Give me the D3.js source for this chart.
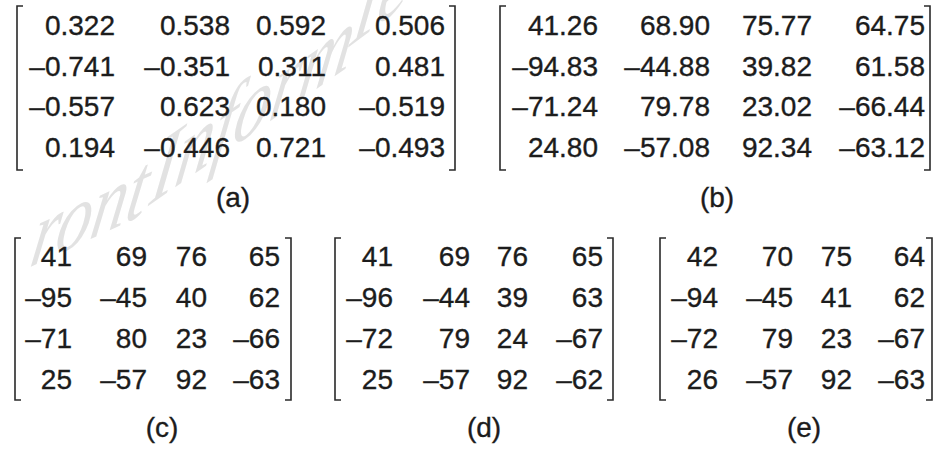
<!DOCTYPE html>
<html><head><meta charset="utf-8">
<script src="https://cdn.jsdelivr.net/npm/d3@7"></script>
<style>html,body{margin:0;padding:0;background:#fff;}svg{display:block;}</style>
</head><body>
<svg id="chart" width="938" height="452"></svg>
<script>
// ---- data ----
const matrixA = [["0.322","0.538","0.592","0.506"],["–0.741","–0.351","0.311","0.481"],["–0.557","0.623","0.180","–0.519"],["0.194","–0.446","0.721","–0.493"]];
const matrixB = [["41.26","68.90","75.77","64.75"],["–94.83","–44.88","39.82","61.58"],["–71.24","79.78","23.02","–66.44"],["24.80","–57.08","92.34","–63.12"]];
const matrixC = [["41","69","76","65"],["–95","–45","40","62"],["–71","80","23","–66"],["25","–57","92","–63"]];
const matrixD = [["41","69","76","65"],["–96","–44","39","63"],["–72","79","24","–67"],["25","–57","92","–62"]];
const matrixE = [["42","70","75","64"],["–94","–45","41","62"],["–72","79","23","–67"],["26","–57","92","–63"]];
const panelLabels = ["(a)","(b)","(c)","(d)","(e)"];
const watermarkWords = ["ront", "Inform", "Tec"];

// ---- layout ----
const panels = [
  {m: matrixA, left: 17, right: 455, top: 6, bottom: 170, cols: [115,230,326,445], rows: [35,157], lx: 233, ly: 207},
  {m: matrixB, left: 500, right: 930, top: 6, bottom: 170, cols: [598,710,812,925], rows: [35,157], lx: 717, ly: 207},
  {m: matrixC, left: 15, right: 291, top: 238, bottom: 400, cols: [72,147,207,280], rows: [266,389], lx: 162, ly: 437},
  {m: matrixD, left: 335, right: 613, top: 238, bottom: 400, cols: [393,470,528,603], rows: [266,389], lx: 484, ly: 437},
  {m: matrixE, left: 660, right: 932, top: 238, bottom: 400, cols: [718,793,852,925], rows: [266,389], lx: 804, ly: 437}
];
const watermarkLayout = [
  {size: 86, a: 0.82, b: -0.38, e: 28, f: 268},
  {size: 90, a: 0.82, b: -0.57, e: 148, f: 206},
  {size: 90, a: 0.78, b: -0.58, e: 342, f: 52}
];

const svg = d3.select("#chart");

// watermark
const wm = svg.append("g").attr("fill", "#e2e2e2")
  .attr("font-family", "'Liberation Serif','DejaVu Serif',serif")
  .attr("font-style", "italic");
wm.selectAll("text").data(watermarkWords).join("text")
  .attr("font-size", (d, i) => watermarkLayout[i].size)
  .attr("transform", (d, i) => {
    const L = watermarkLayout[i];
    return `matrix(${L.a},${L.b},-0.2,1.08,${L.e},${L.f})`;
  })
  .text(d => d);

const font = "'Liberation Sans', Arial, sans-serif";
const serif = 6;
const ink = "#1c1c1c";

panels.forEach((p, i) => {
  const g = svg.append("g");
  const y = d3.scaleLinear().domain([0, p.m.length - 1]).range(p.rows);
  const x = d3.scaleOrdinal().domain(d3.range(p.cols.length)).range(p.cols);

  const line = d3.line();
  g.append("path")
    .attr("d", line([[p.left + serif, p.top], [p.left, p.top], [p.left, p.bottom], [p.left + serif, p.bottom]]))
    .attr("fill", "none").attr("stroke", "#2a2a2a").attr("stroke-width", 1.6);
  g.append("path")
    .attr("d", line([[p.right - serif, p.top], [p.right, p.top], [p.right, p.bottom], [p.right - serif, p.bottom]]))
    .attr("fill", "none").attr("stroke", "#2a2a2a").attr("stroke-width", 1.6);

  const cells = p.m.flatMap((row, r) => row.map((v, c) => ({v, r, c})));
  g.selectAll("text.cell").data(cells).join("text")
    .attr("class", "cell")
    .attr("x", d => x(d.c))
    .attr("y", d => y(d.r))
    .attr("text-anchor", "end")
    .attr("font-family", font)
    .attr("font-size", 28)
    .attr("fill", ink).attr("stroke", ink).attr("stroke-width", 0.35)
    .text(d => d.v);

  g.append("text")
    .attr("x", p.lx).attr("y", p.ly)
    .attr("text-anchor", "middle")
    .attr("font-family", font)
    .attr("font-size", 28)
    .attr("fill", ink).attr("stroke", ink).attr("stroke-width", 0.35)
    .text(panelLabels[i]);
});
</script>
</body></html>
